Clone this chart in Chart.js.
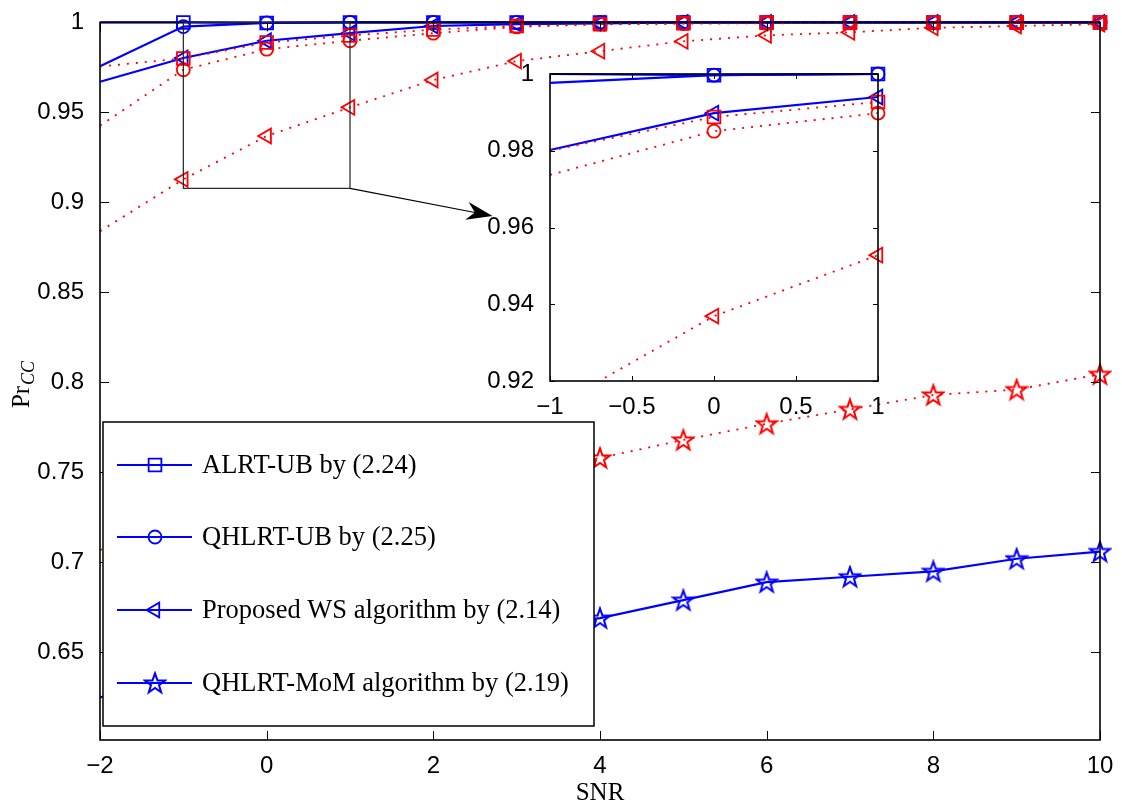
<!DOCTYPE html>
<html>
<head>
<meta charset="utf-8">
<script src="https://cdn.jsdelivr.net/npm/chart.js@4.4.0/dist/chart.umd.min.js"></script>
<style>
  html, body { margin: 0; padding: 0; background: #fff; }
  #wrap { position: relative; width: 1122px; height: 808px; }
  #main { position: absolute; left: 0; top: 0; }
  #inset { position: absolute; left: 450px; top: 50px; }
</style>
</head>
<body>
<div id="wrap">
  <canvas id="main" width="1122" height="808" style="width:1122px;height:808px"></canvas>
  <canvas id="inset" width="450" height="380" style="width:450px;height:380px"></canvas>
</div>
<script>
'use strict'

// SNR points
var snr = [-2, -1, 0, 1, 2, 3, 4, 5, 6, 7, 8, 9, 10];

// theory (blue, solid)
var alrtUB   = [1, 1, 0.9997, 1, 1, 1, 1, 1, 1, 1, 1, 1, 1];
var qhlrtUB  = [0.9757, 0.9977, 0.9997, 1, 1, 1, 1, 1, 1, 1, 1, 1, 1];
var wsTheory = [0.967, 0.9802, 0.9898, 0.994, 0.998, 0.999, 0.9995, 1, 1, 1, 1, 1, 1];
var momTheory = [0.625, 0.634, 0.643, 0.651, 0.658, 0.664, 0.669, 0.679, 0.689, 0.692, 0.695, 0.702, 0.706];

// simulation (red, dotted)
var alrtSim  = [0.9755, 0.980, 0.9888, 0.9927, 0.996, 0.998, 0.999, 0.9995, 1, 1, 1, 1, 1];
var qhlrtSim = [0.9426, 0.9737, 0.9851, 0.9898, 0.994, 0.9975, 0.999, 0.9993, 0.9995, 0.9997, 1, 1, 1];
var wsSim    = [0.884, 0.9128, 0.9369, 0.9528, 0.968, 0.9785, 0.984, 0.9895, 0.9928, 0.9945, 0.997, 0.998, 0.999];
var momSim   = [0.707, 0.717, 0.727, 0.737, 0.745, 0.752, 0.758, 0.768, 0.777, 0.785, 0.793, 0.796, 0.8045];

// tick labels
var xTicks = [-2, 0, 2, 4, 6, 8, 10];
var yTicks = [0.65, 0.7, 0.75, 0.8, 0.85, 0.9, 0.95, 1];
var insetXTicks = [-1, -0.5, 0, 0.5, 1];
var insetYTicks = [0.92, 0.94, 0.96, 0.98, 1];

var legendLabels = ['ALRT-UB by (2.24)', 'QHLRT-UB by (2.25)', 'Proposed WS algorithm by (2.14)', 'QHLRT-MoM algorithm by (2.19)'];

// zoom rectangle + arrow (data coords of main axes)
var zoomBox = { xMin: -1, xMax: 1, yMin: 0.9078, yMax: 1 };
var arrowTip = { x: 2.71, y: 0.8925 };

var BLUE = '#0000ff';
var RED = '#ff0000';
var TICK_FONT = { family: '"Liberation Sans", Arial, sans-serif', size: 24 };
var SERIF = '"Liberation Serif", "Times New Roman", serif';

function makeStar(color) {
    var c = document.createElement('canvas');
    c.width = 24; c.height = 24;
    var g = c.getContext('2d');
    g.strokeStyle = color;
    g.lineWidth = 2;
    g.beginPath();
    for (var i = 0; i < 10; i++) {
        var r = i % 2 ? 4.2 : 10.5;
        var a = -Math.PI / 2 + i * Math.PI / 5;
        var px = 12 + r * Math.cos(a), py = 12.8 + r * Math.sin(a);
        if (i === 0) g.moveTo(px, py); else g.lineTo(px, py);
    }
    g.closePath();
    g.stroke();
    return c;
}
var starBlue = makeStar(BLUE);
var starRed = makeStar(RED);

var markers = [
    { pointStyle: 'rect', pointRadius: 9, pointRotation: 0 },
    { pointStyle: 'circle', pointRadius: 6.5, pointRotation: 0 },
    { pointStyle: 'triangle', pointRadius: 8.5, pointRotation: -90 },
    { pointStyle: null, pointRadius: 10, pointRotation: 0 }
];

function pairs(xs, ys) {
    return xs.map(function (x, i) { return { x: x, y: ys[i] }; });
}

// no marker on the left edge of the axes (as in the original figure)
function radiusFn(r) {
    return function (c) {
        if (!c.parsed) return r;
        return c.parsed.x <= c.chart.scales.x.min ? 0 : r;
    };
}

function makeDatasets(from, to) {
    var xs = snr.slice(from, to);
    var theory = [alrtUB, qhlrtUB, wsTheory, momTheory];
    var sims = [alrtSim, qhlrtSim, wsSim, momSim];
    var out = [];
    theory.forEach(function (ys, k) {
        var m = markers[k];
        out.push({
            label: legendLabels[k],
            data: pairs(xs, ys.slice(from, to)),
            borderColor: BLUE,
            borderWidth: 2.2,
            pointStyle: m.pointStyle || starBlue,
            legendRadius: m.pointRadius,
            pointRadius: radiusFn(m.pointRadius),
            pointRotation: m.pointRotation,
            pointBorderColor: BLUE,
            pointBackgroundColor: 'rgba(0,0,0,0)',
            pointBorderWidth: 1.8,
            tension: 0,
            order: 1
        });
    });
    sims.forEach(function (ys, k) {
        var m = markers[k];
        out.push({
            label: 'sim ' + k,
            data: pairs(xs, ys.slice(from, to)),
            borderColor: RED,
            borderWidth: 1.8,
            borderDash: [2, 7],
            pointStyle: m.pointStyle || starRed,
            pointRadius: radiusFn(m.pointRadius),
            pointRotation: m.pointRotation,
            pointBorderColor: RED,
            pointBackgroundColor: 'rgba(0,0,0,0)',
            pointBorderWidth: 1.8,
            tension: 0,
            order: 0
        });
    });
    return out;
}

function fmt(v) {
    var s = String(parseFloat(Number(v).toFixed(3)));
    return v < 0 ? '\u2212' + s.slice(1) : s;
}

function drawFrame(chart, xt, yt, len) {
    var ctx = chart.ctx, a = chart.chartArea;
    var xs = chart.scales.x, ys = chart.scales.y;
    ctx.save();
    ctx.strokeStyle = '#000';
    ctx.lineWidth = 1;
    ctx.beginPath();
    xt.forEach(function (v) {
        var px = Math.round(xs.getPixelForValue(v)) + 0.5;
        ctx.moveTo(px, a.bottom); ctx.lineTo(px, a.bottom - len);
        ctx.moveTo(px, a.top); ctx.lineTo(px, a.top + len);
    });
    yt.forEach(function (v) {
        var py = Math.round(ys.getPixelForValue(v)) + 0.5;
        ctx.moveTo(a.left, py); ctx.lineTo(a.left + len, py);
        ctx.moveTo(a.right, py); ctx.lineTo(a.right - len, py);
    });
    ctx.stroke();
    ctx.lineWidth = 1.6;
    ctx.strokeRect(a.left, a.top, a.right - a.left, a.bottom - a.top);
    ctx.restore();
}

function scaleOpts(min, max, ticks, width, height, pad) {
    return {
        type: 'linear',
        min: min,
        max: max,
        grid: { display: false },
        border: { display: false },
        afterBuildTicks: function (s) { s.ticks = ticks.map(function (v) { return { value: v }; }); },
        afterFit: function (s) {
            if (width) s.width = width;
            if (height) s.height = height;
        },
        ticks: { color: '#000', font: TICK_FONT, padding: pad, maxRotation: 0, autoSkip: false, callback: fmt }
    };
}

var mainPlugin = {
    id: 'mainDecor',
    afterDraw: function (chart) {
        var ctx = chart.ctx;
        var xs = chart.scales.x, ys = chart.scales.y;
        drawFrame(chart, xTicks, yTicks, 9);

        // zoom rectangle and arrow
        var x0 = xs.getPixelForValue(zoomBox.xMin), x1 = xs.getPixelForValue(zoomBox.xMax);
        var y0 = ys.getPixelForValue(zoomBox.yMax), y1 = ys.getPixelForValue(zoomBox.yMin);
        ctx.save();
        ctx.strokeStyle = '#222';
        ctx.lineWidth = 1.2;
        ctx.strokeRect(x0, y0, x1 - x0, y1 - y0);
        var tx = xs.getPixelForValue(arrowTip.x), ty = ys.getPixelForValue(arrowTip.y);
        var ang = Math.atan2(ty - y1, tx - x1);
        ctx.strokeStyle = '#000';
        ctx.beginPath();
        ctx.moveTo(x1, y1);
        ctx.lineTo(tx - 14 * Math.cos(ang), ty - 14 * Math.sin(ang));
        ctx.stroke();
        ctx.translate(tx, ty);
        ctx.rotate(ang);
        ctx.fillStyle = '#000';
        ctx.beginPath();
        ctx.moveTo(0, 0);
        ctx.lineTo(-26, -9);
        ctx.lineTo(-18, 0);
        ctx.lineTo(-26, 9);
        ctx.closePath();
        ctx.fill();
        ctx.restore();

        // legend box
        ctx.save();
        ctx.fillStyle = '#fff';
        ctx.fillRect(103, 422, 491, 304);
        ctx.strokeStyle = '#000';
        ctx.lineWidth = 1.5;
        ctx.strokeRect(103, 422, 491, 304);
        var rows = [465, 537, 610, 683];
        chart.data.datasets.slice(0, 4).forEach(function (d, k) {
            var ry = rows[k];
            ctx.strokeStyle = BLUE;
            ctx.lineWidth = 2.2;
            ctx.beginPath();
            ctx.moveTo(117, ry); ctx.lineTo(192, ry);
            ctx.stroke();
            ctx.fillStyle = 'rgba(0,0,0,0)';
            ctx.lineWidth = 1.8;
            Chart.helpers.drawPoint(ctx, {
                pointStyle: d.pointStyle, radius: d.legendRadius,
                rotation: d.pointRotation, borderWidth: 1.8
            }, 155, ry);
            ctx.fillStyle = '#000';
            ctx.font = '26.5px ' + SERIF;
            ctx.textAlign = 'left';
            ctx.textBaseline = 'middle';
            ctx.fillText(legendLabels[k], 202, ry + 1);
        });

        // axis titles
        ctx.fillStyle = '#000';
        ctx.font = '25px ' + SERIF;
        ctx.textAlign = 'center';
        ctx.textBaseline = 'middle';
        var a = chart.chartArea;
        ctx.fillText('SNR', (a.left + a.right) / 2, 793);

        ctx.translate(29, 385);
        ctx.rotate(-Math.PI / 2);
        ctx.textAlign = 'left';
        ctx.textBaseline = 'alphabetic';
        ctx.font = '25px ' + SERIF;
        var w1 = ctx.measureText('Pr').width;
        ctx.font = 'italic 18px ' + SERIF;
        var w2 = ctx.measureText('CC').width;
        var sx = -(w1 + w2) / 2;
        ctx.font = '25px ' + SERIF;
        ctx.fillText('Pr', sx, 0);
        ctx.font = 'italic 18px ' + SERIF;
        ctx.fillText('CC', sx + w1 + 1, 5);
        ctx.restore();
    }
};

var mainChart = new Chart(document.getElementById('main'), {
    type: 'line',
    data: { datasets: makeDatasets(0, snr.length) },
    options: {
        responsive: false,
        animation: false,
        clip: false,
        layout: { padding: { left: 0, top: 18, right: 22, bottom: 0 } },
        plugins: { legend: { display: false }, tooltip: { enabled: false } },
        scales: {
            x: scaleOpts(-2, 10, xTicks, 0, 68, 4),
            y: scaleOpts(0.6013, 1, yTicks, 100, 0, 8)
        }
    },
    plugins: [mainPlugin]
});

var insetPlugin = {
    id: 'insetDecor',
    beforeDraw: function (chart) {
        var a = chart.chartArea, ctx = chart.ctx;
        ctx.save();
        ctx.fillStyle = '#fff';
        ctx.fillRect(a.left, a.top, a.right - a.left, a.bottom - a.top);
        ctx.restore();
    },
    afterDraw: function (chart) {
        drawFrame(chart, insetXTicks, insetYTicks, 5);
    }
};

var insetChart = new Chart(document.getElementById('inset'), {
    type: 'line',
    data: { datasets: makeDatasets(1, 4) },
    options: {
        responsive: false,
        animation: false,
        clip: { left: 14, right: 14, top: 14, bottom: 0 },
        layout: { padding: { left: 0, top: 24, right: 22, bottom: 0 } },
        plugins: { legend: { display: false }, tooltip: { enabled: false } },
        scales: {
            x: scaleOpts(-1, 1, insetXTicks, 0, 49, 4),
            y: scaleOpts(0.92, 1, insetYTicks, 100, 0, 8)
        }
    },
    plugins: [insetPlugin]
});
</script>
</body>
</html>
